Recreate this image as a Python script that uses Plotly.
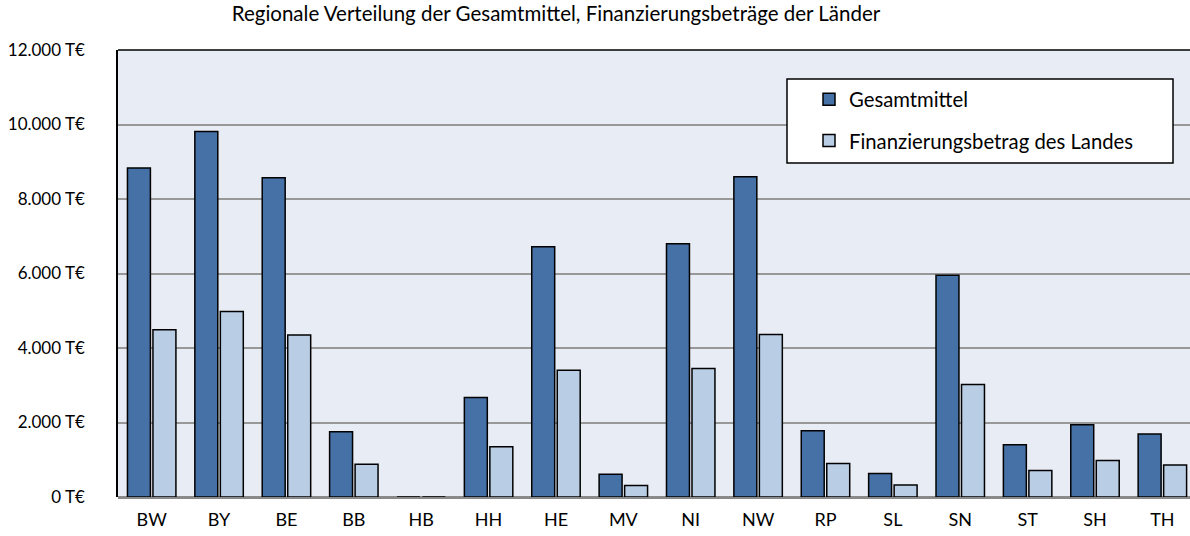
import plotly.graph_objects as go

categories = ["BW", "BY", "BE", "BB", "HB", "HH", "HE", "MV", "NI", "NW", "RP", "SL", "SN", "ST", "SH", "TH"]
gesamtmittel = [8830, 9810, 8570, 1750, 0, 2670, 6720, 610, 6800, 8600, 1780, 630, 5950, 1400, 1940, 1690]
finanzierung = [4490, 4980, 4350, 880, 0, 1350, 3400, 310, 3450, 4360, 900, 320, 3020, 710, 980, 860]
y_ticks = [0, 2000, 4000, 6000, 8000, 10000, 12000]
y_ticktext = [f"{v:,}".replace(",", ".") + " T€" for v in y_ticks]

FONT = "Lato"
W, H = 1190, 536
L, R, T, B = 118, 0, 50, 39

fig = go.Figure()
fig.add_trace(go.Bar(
    x=categories, y=gesamtmittel, name="Gesamtmittel", legendgroup="g1",
    marker=dict(color="#4571A6", line=dict(color="#000000", width=1.5)),
))
fig.add_trace(go.Bar(
    x=categories, y=finanzierung, name="Finanzierungsbetrag des Landes", legendgroup="g2",
    marker=dict(color="#B9CDE5", line=dict(color="#000000", width=1.5)),
))

pw = W - L - R
ph = H - T - B
def px_x(p):
    return (p - L) / pw
def px_y(p):
    return (H - B - p) / ph

# legend box
fig.add_shape(type="rect", xref="paper", yref="paper",
              x0=px_x(787), x1=px_x(1173), y0=px_y(163), y1=px_y(79),
              fillcolor="white", line=dict(color="black", width=1.5), layer="above")
# top border of plot area
fig.add_shape(type="line", xref="paper", yref="paper", x0=0, x1=1, y0=1, y1=1,
              line=dict(color="black", width=1.5))

fig.update_layout(
    width=W, height=H,
    margin=dict(l=L, r=R, t=T, b=B, pad=0),
    paper_bgcolor="white",
    plot_bgcolor="#E8ECF4",
    font=dict(family=FONT, size=18, color="#000000"),
    title=dict(text="Regionale Verteilung der Gesamtmittel, Finanzierungsbeträge der Länder",
               x=556 / W, xanchor="center", y=1 - 14 / H, yanchor="middle",
               font=dict(family=FONT, size=20.5, color="#000000")),
    barmode="group", bargap=0.243, bargroupgap=0.1,
    showlegend=True,
    legend=dict(x=px_x(809), xanchor="left", y=px_y(79.5), yanchor="top",
                bgcolor="rgba(0,0,0,0)", borderwidth=0,
                font=dict(family=FONT, size=20.3), tracegroupgap=12,
                traceorder="grouped"),
    xaxis=dict(type="category", range=[-0.5, 15.41], showgrid=False, showline=False,
               ticks="", ticklabelstandoff=10, tickfont=dict(family=FONT, size=18)),
    yaxis=dict(range=[0, 12000], tickvals=y_ticks, ticktext=y_ticktext,
               showgrid=True, gridcolor="#989898", gridwidth=1.5,
               zeroline=True, zerolinecolor="#8A8A8A", zerolinewidth=2.5,
               showline=True, linecolor="#000000", linewidth=1.5,
               ticks="", ticklabelstandoff=28, tickfont=dict(family=FONT, size=17)),
)

# remove the default 8px page margin so the figure fills the window exactly
fig.write_html("out.html", config={"displayModeBar": False},
               post_script="document.body.style.margin='0';")
